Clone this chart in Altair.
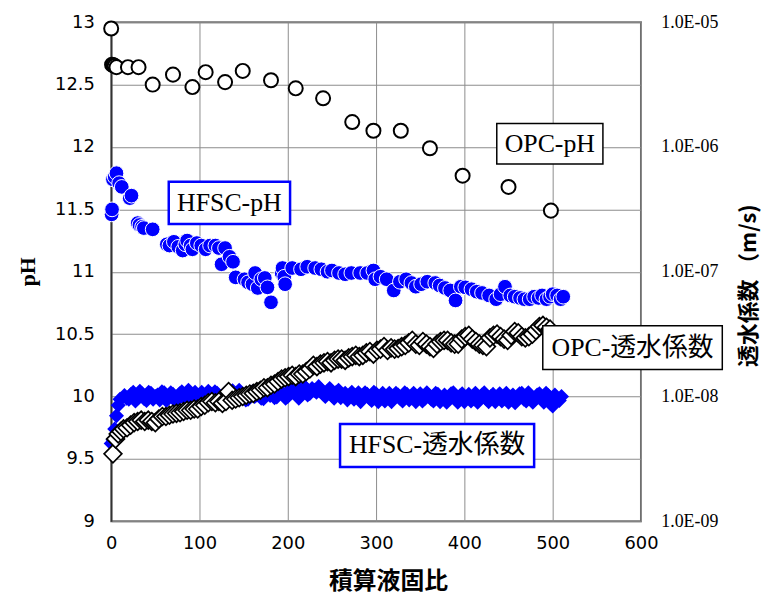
import altair as alt
import pandas as pd

BLUE = "#0000FF"

# ---------------- data ----------------
x_ticks = [0, 100, 200, 300, 400, 500, 600]
ph_ticks = [9, 9.5, 10, 10.5, 11, 11.5, 12, 12.5, 13]
k_ticks = [1e-9, 1e-8, 1e-7, 1e-6, 1e-5]

# OPC pH (open circles)
opc_ph_x = [0, 1, 2.5, 4, 6, 19, 31, 47, 70, 92, 107, 129, 149, 181, 209, 240,
            273, 297, 328, 361, 398, 450, 498]
opc_ph_y = [12.95, 12.66, 12.655, 12.65, 12.64, 12.64, 12.64, 12.50, 12.58, 12.48,
            12.60, 12.52, 12.61, 12.535, 12.47, 12.39, 12.20, 12.13, 12.13, 11.99,
            11.77, 11.68, 11.49]

# HFSC pH (blue filled circles)
hfsc_ph_x = [0.5, 1, 2, 4, 6, 9, 12, 21, 23, 30,
             32, 35, 37, 47, 63, 66, 71, 76, 81, 84,
             86, 90, 92, 97, 102, 107, 112, 118, 122, 125,
             129, 134, 138, 141, 151, 155, 160, 163, 166, 170,
             174, 177, 181, 193, 194, 196, 197, 205, 215, 222,
             231, 238, 245, 250, 258, 265, 272, 282, 290, 297,
             299, 305, 312, 320, 327, 334, 340, 345, 351, 358,
             367, 372, 378, 384, 390, 396, 401, 408, 414, 420,
             428, 436, 441, 446, 452, 457, 463, 468, 474, 479,
             484, 488, 493, 497, 500, 505, 509, 512]
hfsc_ph_y = [11.46, 11.50, 11.74, 11.76, 11.79, 11.71, 11.68, 11.59, 11.61, 11.39,
             11.375, 11.36, 11.35, 11.34, 11.22, 11.21, 11.24, 11.20, 11.17, 11.22,
             11.25, 11.21, 11.18, 11.23, 11.21, 11.18, 11.21, 11.21, 11.19, 11.06,
             11.19, 11.12, 11.08, 10.955, 10.94, 10.915, 10.90, 10.99, 10.87, 10.94,
             10.95, 10.875, 10.755, 10.99, 11.03, 10.96, 10.90, 11.03, 11.02, 11.04,
             11.03, 11.02, 11.00, 11.01, 10.99, 10.98, 10.99, 10.99, 10.99, 11.01,
             10.94, 10.96, 10.94, 10.85, 10.92, 10.94, 10.91, 10.88, 10.90, 10.92,
             10.91, 10.89, 10.87, 10.85, 10.77, 10.88, 10.875, 10.86, 10.84, 10.83,
             10.81, 10.78, 10.82, 10.88, 10.81, 10.80, 10.79, 10.78, 10.78, 10.80,
             10.79, 10.81, 10.78, 10.80, 10.82, 10.81, 10.78, 10.80]

# OPC permeability (open diamonds), in units of 1e-8 m/s
opc_k_x = [2, 5, 8, 11, 14] + list(range(18, 131, 4)) + [133] + list(range(137, 498, 4))
opc_k_v = [0.347, 0.457, 0.501, 0.525, 0.550, 0.562, 0.589, 0.617, 0.631, 0.646,
           0.631, 0.646, 0.631, 0.617, 0.661, 0.692, 0.692, 0.708, 0.724, 0.733,
           0.741, 0.759, 0.776, 0.776, 0.794, 0.794, 0.832, 0.851, 0.891, 0.912,
           0.891, 0.912, 0.881, 0.912, 1.096, 0.933, 0.955, 0.977, 1.000, 1.023,
           1.047, 1.059, 1.096, 1.122, 1.175, 1.175, 1.230, 1.259, 1.318, 1.380,
           1.413, 1.445, 1.479, 1.445, 1.514, 1.514, 1.585, 1.660, 1.778, 1.738,
           1.820, 1.862, 1.905, 1.862, 1.950, 1.995, 1.995, 1.950, 2.042, 2.089,
           2.138, 2.089, 2.138, 2.239, 2.291, 2.188, 2.344, 2.399, 2.512, 2.344,
           2.455, 2.399, 2.427, 2.512, 2.570, 2.692, 2.818, 2.630, 2.570, 2.754,
           2.630, 2.512, 2.427, 2.630, 2.754, 2.818, 2.818, 2.692, 2.630, 2.630,
           2.884, 3.020, 3.090, 2.884, 2.754, 2.630, 2.570, 2.512, 2.951, 3.090,
           3.162, 3.020, 2.884, 2.818, 3.090, 3.311, 3.236, 3.020, 2.951, 3.020,
           3.162, 3.388, 3.631, 3.715, 3.589, 3.467]

# HFSC permeability (blue diamonds), in units of 1e-8 m/s
hfsc_k_x = ([0, 2, 4, 6, 8, 10] + list(range(15, 511, 5))
            + [x / 10 for x in range(175, 5080, 50)])
hfsc_k_v = [0.42, 0.45, 0.55, 0.70, 0.85, 0.95,
            1.02, 0.95, 1.08, 0.97, 1.05, 0.93, 1.06, 1.00, 0.94, 1.07,
            0.98, 1.04, 0.95, 1.09, 1.00, 0.96, 1.08, 1.02, 0.95, 1.10,
            0.98, 1.06, 0.94, 1.08, 1.01, 0.96, 1.12, 1.00, 0.95, 1.09,
            1.03, 0.97, 1.14, 1.02, 0.98, 1.12, 1.05, 1.00, 1.15, 1.04,
            1.10, 1.18, 1.06, 1.12, 1.20, 1.05, 1.10, 1.02, 1.08, 0.98,
            1.06, 1.00, 0.95, 1.07, 0.98, 1.04, 0.93, 1.05, 0.99, 0.92,
            1.06, 0.97, 1.03, 0.92, 1.04, 0.98, 0.91, 1.05, 0.96, 1.02,
            0.92, 1.04, 0.97, 0.90, 1.05, 0.95, 1.01, 0.91, 1.04, 0.96,
            0.90, 1.03, 0.95, 1.00, 0.91, 1.05, 0.96, 0.90, 1.03, 0.97,
            1.06, 0.92, 1.00, 0.95, 1.05, 0.90, 1.02, 0.84, 0.97, 1.00,
            # interleaved readings at 17.5, 22.5, ... 507.5
            0.97, 1.04, 0.92, 1.10, 0.96, 1.08, 0.95, 1.03, 1.09, 0.93,
            1.07, 0.93, 1.05, 0.97, 1.12, 0.94, 1.01, 1.08, 0.97, 1.05,
            1.09, 0.96, 1.03, 0.93, 1.11, 0.98, 1.05, 0.94, 1.07, 1.00,
            1.12, 0.96, 1.06, 1.17, 0.99, 1.08, 0.97, 1.13, 1.08, 0.97,
            1.22, 1.03, 1.16, 1.08, 1.14, 1.00, 1.16, 0.97, 1.12, 1.03,
            0.94, 1.08, 1.02, 0.91, 1.07, 0.97, 1.08, 0.91, 1.06, 1.00,
            0.91, 1.06, 0.96, 1.07, 0.94, 1.06, 1.00, 0.92, 1.07, 0.95,
            1.06, 0.91, 1.03, 0.96, 1.07, 0.90, 1.05, 0.98, 0.92, 1.06,
            0.97, 1.07, 0.91, 1.04, 0.98, 0.92, 1.06, 0.98, 0.89, 1.05,
            0.95, 1.07, 0.90, 1.03, 0.97, 1.06, 0.88, 1.03, 0.93]

# annotation boxes (label, x-left, x-right, pH-bottom, pH-top, edge colour, edge width)
ann_label = ["OPC-pH", "HFSC-pH", "OPC-透水係数", "HFSC-透水係数"]
ann_x1 = [436.7, 65.2, 488.8, 259.2]
ann_x2 = [556.9, 202.6, 692.1, 479.0]
ann_y1 = [11.863, 11.383, 10.217, 9.435]
ann_y2 = [12.189, 11.722, 10.567, 9.779]
ann_edge = ["black", BLUE, "black", BLUE]
ann_sw = [1.5, 2.5, 1.5, 2.5]

# ---------------- tables ----------------
df_opc_ph = pd.DataFrame({"x": opc_ph_x, "ph": opc_ph_y})
df_hfsc_ph = pd.DataFrame({"x": hfsc_ph_x, "ph": hfsc_ph_y})
df_opc_k = pd.DataFrame({"x": opc_k_x, "k": [v * 1e-8 for v in opc_k_v]})
df_hfsc_k = pd.DataFrame({"x": hfsc_k_x, "k": [v * 1e-8 for v in hfsc_k_v]})
df_box = pd.DataFrame({"label": ann_label, "x": ann_x1, "x2": ann_x2,
                       "ph": ann_y1, "ph2": ann_y2, "edge": ann_edge, "sw": ann_sw})
df_txt = pd.DataFrame({"label": ann_label,
                       "x": [(a + b) / 2 for a, b in zip(ann_x1, ann_x2)],
                       "ph": [(a + b) / 2 for a, b in zip(ann_y1, ann_y2)]})

# ---------------- encodings ----------------
x_axis = alt.Axis(values=x_ticks, format="d", grid=True, gridColor="#8c8c8c", gridWidth=1,
                  ticks=False, domain=False, labelFont="DejaVu Sans", labelFontSize=18,
                  labelColor="black", labelPadding=13, labelFlush=False,
                  labelOverlap=False,
                  titleFont="Noto Sans CJK JP", titleFontSize=24, titleFontWeight="bold",
                  titleColor="black", titleX=279, titleY=61, titleAlign="center",
                  titleBaseline="middle")
x_scale = alt.Scale(domain=[0, 600], nice=False, zero=False, padding=0)


def X():
    return alt.X("x:Q", scale=x_scale, axis=x_axis, title="積算液固比")


ph_scale = alt.Scale(domain=[9, 13], nice=False, zero=False, padding=0)
ph_axis = alt.Axis(orient="left", values=ph_ticks, labelExpr="'' + datum.value", grid=True,
                   gridColor="#8c8c8c", gridWidth=1, ticks=False, domain=True,
                   domainColor="#333333", domainWidth=1.5, labelFont="DejaVu Sans",
                   labelFontSize=18, labelColor="black", labelPadding=17,
                   labelFlush=False, labelOverlap=False,
                   titleFont="Liberation Serif", titleFontSize=22, titleFontWeight="bold",
                   titleColor="black", titleAngle=270, titleX=-84, titleY=251,
                   titleAlign="center", titleBaseline="middle")


def YPH():
    return alt.Y("ph:Q", scale=ph_scale, axis=ph_axis, title="pH")


k_scale = alt.Scale(type="log", domain=[1e-9, 1e-5], nice=False, padding=0)
k_axis = alt.Axis(orient="right", values=k_ticks,
                  labelExpr="'1.0E-0' + format(-round(log(datum.value) / LN10), 'd')",
                  grid=False, ticks=False, domain=False, labelFont="Liberation Serif",
                  labelFontSize=18, labelColor="black", labelPadding=20,
                  labelFlush=False, labelOverlap=False,
                  titleFont="Noto Sans CJK JP", titleFontSize=22, titleFontWeight="bold",
                  titleColor="black", titleAngle=270, titleX=108, titleY=265,
                  titleAlign="center", titleBaseline="middle")


def YK():
    return alt.Y("k:Q", scale=k_scale, axis=k_axis, title="透水係数 （m/s)")


# ---------------- layers ----------------
hfsc_k = alt.Chart(df_hfsc_k).mark_point(shape="diamond", filled=True, fill=BLUE,
                                         size=230, opacity=1).encode(x=X(), y=YK())
opc_k = alt.Chart(df_opc_k).mark_point(shape="diamond", filled=True, fill="white",
                                       stroke="black", strokeWidth=1.7, size=320,
                                       opacity=1).encode(x=X(), y=YK())

opc_ph = alt.Chart(df_opc_ph).mark_point(shape="circle", filled=True, fill="white",
                                         stroke="black", strokeWidth=2, size=200,
                                         opacity=1).encode(x=X(), y=YPH())
hfsc_ph = alt.Chart(df_hfsc_ph).mark_point(shape="circle", filled=True, fill=BLUE,
                                           stroke="white", strokeWidth=1, size=220,
                                           opacity=1).encode(x=X(), y=YPH())
boxes = alt.Chart(df_box).mark_rect(fill="white").encode(
    x=X(), x2="x2:Q", y=YPH(), y2="ph2:Q",
    stroke=alt.Stroke("edge:N", scale=None, legend=None),
    strokeWidth=alt.StrokeWidth("sw:Q", scale=None, legend=None))
texts = alt.Chart(df_txt).mark_text(font="Liberation Serif, Noto Sans CJK JP", fontSize=26,
                                    color="black", align="center",
                                    baseline="middle").encode(x=X(), y=YPH(), text="label:N")

right_group = alt.layer(hfsc_k, opc_k)
left_group = alt.layer(opc_ph, hfsc_ph, boxes, texts)

chart = alt.layer(right_group, left_group).resolve_scale(y="independent").properties(
    width=534, height=503,
    padding={"left": 104, "top": 12, "right": 123, "bottom": 76},
    autosize=alt.AutoSizeParams(type="none"),
    background="white",
).configure_view(stroke="#6e6e6e", strokeWidth=2)

chart.save("out.html", embed_options={"renderer": "svg", "actions": False})
